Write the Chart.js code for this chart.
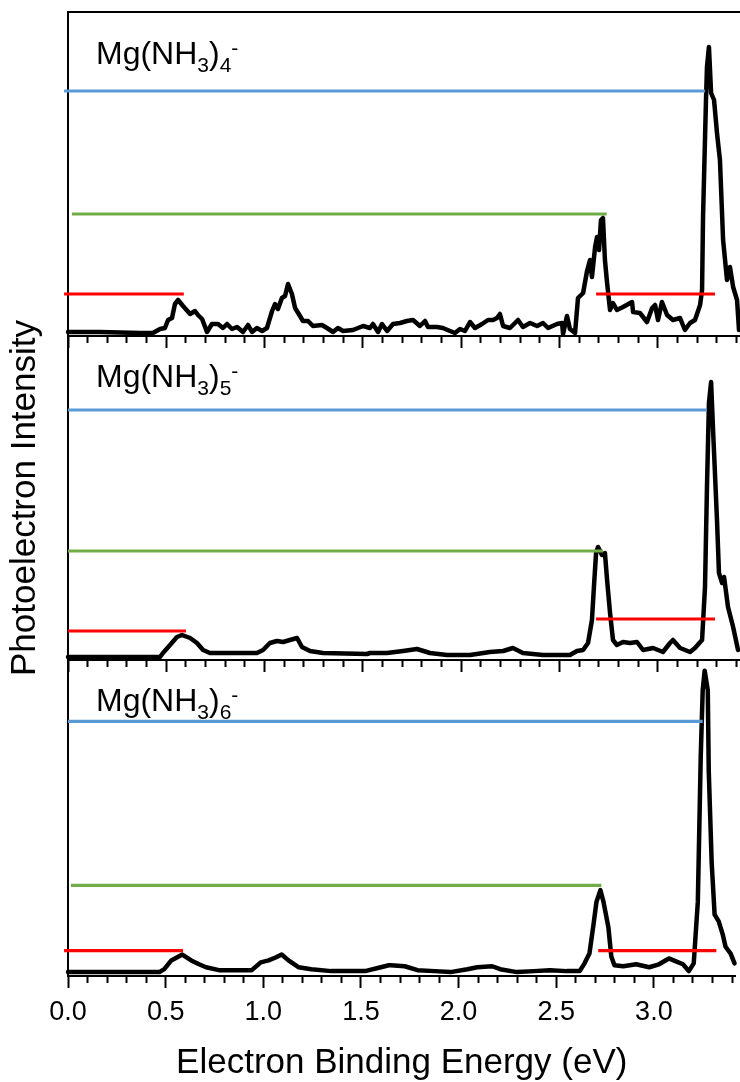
<!DOCTYPE html>
<html>
<head>
<meta charset="utf-8">
<title>Mg(NH3)n- photoelectron spectra</title>
<script src="https://cdn.jsdelivr.net/npm/chart.js@4.4.1/dist/chart.umd.min.js"></script>
<style>
  body { margin: 0; background: #fff; }
  #wrap { position: relative; width: 740px; height: 1082px; overflow: hidden; }
  #wrap canvas { position: absolute; left: 0; top: 0; }
  .label {
    position: absolute; left: 96px; color: #000; white-space: nowrap;
    font-family: Arial, "Liberation Sans", sans-serif; font-size: 32px; line-height: 32px;
  }
  .label sub, .label sup { font-size: 21px; line-height: 0; }
  .label sub { vertical-align: -8px; }
  .label sup { vertical-align: 9px; }
</style>
</head>
<body>
<div id="wrap">
  <canvas id="panel4" width="740" height="1082"></canvas>
  <canvas id="panel5" width="740" height="1082"></canvas>
  <canvas id="panel6" width="740" height="1082"></canvas>
  <div class="label" style="top:37px">Mg(NH<sub>3</sub>)<sub>4</sub><sup>-</sup></div>
  <div class="label" style="top:360px">Mg(NH<sub>3</sub>)<sub>5</sub><sup>-</sup></div>
  <div class="label" style="top:684px">Mg(NH<sub>3</sub>)<sub>6</sub><sup>-</sup></div>
</div>
<script>
"use strict";

// Mg(NH3)4- : binding energy (eV) and intensity (arb. units)
const energy4 = [0.000,0.163,0.366,0.432,0.468,0.493,0.509,0.529,0.544,0.560,0.585,0.621,0.646,0.661,0.682,0.707,0.732,0.763,0.788,0.809,
  0.834,0.860,0.890,0.916,0.936,0.961,0.987,1.012,1.038,1.053,1.068,1.088,1.104,1.119,1.139,1.155,1.180,1.195,1.221,1.246,
  1.292,1.317,1.348,1.373,1.399,1.450,1.501,1.536,1.551,1.577,1.597,1.623,1.653,1.689,1.724,1.755,1.790,1.816,1.831,1.877,
  1.907,1.943,1.968,1.994,2.019,2.045,2.070,2.106,2.136,2.162,2.182,2.197,2.213,2.248,2.289,2.314,2.350,2.386,2.416,2.442,
  2.487,2.513,2.518,2.538,2.553,2.579,2.594,2.620,2.640,2.655,2.665,2.681,2.691,2.701,2.711,2.721,2.731,2.742,2.757,2.772,
  2.792,2.823,2.869,2.874,2.909,2.945,2.971,2.986,3.001,3.021,3.047,3.077,3.113,3.138,3.164,3.189,3.215,3.225,3.230,3.245,
  3.250,3.260,3.271,3.286,3.301,3.316,3.332,3.352,3.367,3.383,3.403,3.413];
const counts4 = [4,4,3,3,7,8,16,18,32,36,30,22,25,21,17,4,12,12,8,12,
  7,9,4,11,4,8,5,8,25,32,27,38,40,52,42,28,20,15,15,10,
  11,8,4,8,5,6,10,8,12,4,12,5,12,13,15,16,10,15,9,9,
  8,5,3,7,5,14,8,12,16,16,18,22,10,8,16,9,13,10,13,8,
  12,13,2,20,7,3,38,43,65,76,59,89,99,86,116,118,76,53,26,33,
  26,29,34,24,23,14,28,31,16,34,21,16,18,6,13,16,31,46,119,236,
  269,289,243,236,203,176,96,56,69,49,36,6];

// Mg(NH3)5-
const energy5 = [0.000,0.300,0.468,0.483,0.519,0.554,0.580,0.621,0.656,0.687,0.722,0.839,0.961,0.992,1.027,1.063,1.094,1.129,1.165,1.190,
  1.231,1.297,1.521,1.536,1.623,1.704,1.775,1.841,1.928,2.045,2.146,2.213,2.263,2.314,2.416,2.553,2.589,2.620,2.645,2.665,
  2.675,2.686,2.696,2.716,2.731,2.742,2.757,2.772,2.792,2.823,2.859,2.894,2.925,2.976,3.026,3.062,3.077,3.113,3.164,3.189,
  3.225,3.240,3.250,3.260,3.271,3.281,3.301,3.311,3.327,3.337,3.357,3.383,3.408];
const counts5 = [3,3,3,7,15,23,25,22,17,10,7,7,7,10,17,19,18,20,22,13,
  9,7,6,7,7,9,11,7,5,5,8,9,12,7,5,5,9,10,17,40,
  73,107,113,105,107,80,47,20,15,18,17,18,10,12,8,17,20,12,8,12,
  20,73,173,257,278,230,140,87,77,83,53,33,10];

// Mg(NH3)6-
const energy6 = [0.000,0.300,0.468,0.493,0.529,0.585,0.631,0.671,0.707,0.773,0.941,0.987,1.027,1.063,1.094,1.129,1.180,1.246,1.348,1.521,
  1.602,1.643,1.653,1.724,1.790,1.877,1.958,2.045,2.096,2.172,2.213,2.299,2.386,2.467,2.553,2.620,2.645,2.670,2.691,2.706,
  2.726,2.742,2.767,2.782,2.798,2.843,2.909,2.976,3.026,3.077,3.113,3.149,3.179,3.204,3.225,3.230,3.240,3.250,3.260,3.276,
  3.281,3.296,3.311,3.332,3.352,3.367,3.393,3.413];
const counts6 = [4,4,4,7,16,22,16,12,9,6,6,14,16,19,22,16,9,7,5,5,
  9,11,11,10,6,5,4,7,9,10,7,4,5,6,5,5,13,23,53,76,
  88,76,50,20,11,10,12,9,12,18,15,12,5,13,76,126,226,293,313,293,
  210,116,63,56,43,30,23,13];

// level markers: [start eV, end eV, intensity]
const blue4 = [-0.02, 3.240, 245];
const green4 = [0.02, 2.740, 122];
const redLow4 = [-0.02, 0.589, 42];
const redHigh4 = [2.686, 3.291, 42];

const blue5 = [0.0, 3.250, 250];
const green5 = [0.0, 2.721, 109];
const redLow5 = [0.0, 0.600, 29];
const redHigh5 = [2.686, 3.291, 41];

const blue6 = [0.0, 3.250, 261];
const green6 = [0.015, 2.731, 93];
const redLow6 = [-0.02, 0.589, 26];
const redHigh6 = [2.715, 3.320, 26];

const xMin = 0;
const xMax = 3.418;
const yMax = 324;
const FONT = 'Arial, "Liberation Sans", sans-serif';

function isMajor(v) {
    return Math.abs(v * 2 - Math.round(v * 2)) < 1e-6;
}

function levelSet(level, color) {
    return {
        data: [{x: level[0], y: level[2]}, {x: level[1], y: level[2]}],
        borderColor: color,
        borderWidth: 3.2,
        borderCapStyle: 'butt',
        pointRadius: 0,
        clip: false
    };
}

function spectrumSet(energy, counts) {
    return {
        data: energy.map((e, i) => ({x: e, y: counts[i]})),
        borderColor: '#000',
        borderWidth: 4.5,
        borderJoinStyle: 'round',
        borderCapStyle: 'round',
        pointRadius: 0,
        tension: 0,
        clip: false
    };
}

function makePanel(id, energy, counts, levels, opts) {
    const scales = {
        x: {
            type: 'linear',
            min: xMin,
            max: xMax,
            ticks: {
                display: opts.bottom,
                stepSize: 0.1,
                includeBounds: false,
                autoSkip: false,
                maxRotation: 0,
                padding: 8,
                color: '#000',
                font: {family: FONT, size: 27},
                callback: v => isMajor(v) ? v.toFixed(1) : ''
            },
            grid: {
                drawOnChartArea: false,
                tickLength: 12,
                tickWidth: 2,
                tickColor: '#000',
                tickBorderDash: ctx => (ctx.tick && !isMajor(ctx.tick.value)) ? [6, 40] : []
            },
            border: {display: true, color: '#000', width: 2},
            title: {
                display: opts.bottom,
                text: 'Electron Binding Energy (eV)',
                color: '#000',
                font: {family: FONT, size: 35, lineHeight: 1},
                padding: {top: 9, bottom: 0}
            }
        },
        y: {
            min: 0,
            max: yMax,
            ticks: {display: false},
            grid: {display: false, drawTicks: false},
            border: {display: true, color: '#000', width: 2},
            title: {
                display: opts.yTitle,
                text: 'Photoelectron Intensity',
                color: '#000',
                font: {family: FONT, size: 35, lineHeight: 1.2},
                padding: {top: 4, bottom: 22}
            }
        }
    };
    if (opts.topBorder) {
        scales.x2 = {
            type: 'linear',
            position: 'top',
            min: xMin,
            max: xMax,
            ticks: {display: false},
            grid: {drawOnChartArea: false, drawTicks: false},
            border: {display: true, color: '#000', width: 2}
        };
    }

    new Chart(document.getElementById(id), {
        type: 'line',
        data: {
            datasets: [
                levelSet(levels[0], '#5B9BD5'),
                levelSet(levels[1], '#70AD47'),
                levelSet(levels[2], '#FF0000'),
                levelSet(levels[3], '#FF0000'),
                spectrumSet(energy, counts)
            ]
        },
        options: {
            responsive: false,
            animation: false,
            events: [],
            layout: {padding: opts.padding},
            plugins: {legend: {display: false}, tooltip: {enabled: false}},
            scales: scales
        }
    });
}

makePanel('panel4', energy4, counts4, [blue4, green4, redLow4, redHigh4], {
    bottom: false, yTitle: false, topBorder: true,
    padding: {top: 12, bottom: 734, left: 68, right: 0}
});
makePanel('panel5', energy5, counts5, [blue5, green5, redLow5, redHigh5], {
    bottom: false, yTitle: true, topBorder: false,
    padding: {top: 336, bottom: 410, left: 0, right: 0}
});
makePanel('panel6', energy6, counts6, [blue6, green6, redLow6, redHigh6], {
    bottom: true, yTitle: false, topBorder: false,
    padding: {top: 660, bottom: 1.6, left: 68, right: 0}
});
</script>
</body>
</html>
